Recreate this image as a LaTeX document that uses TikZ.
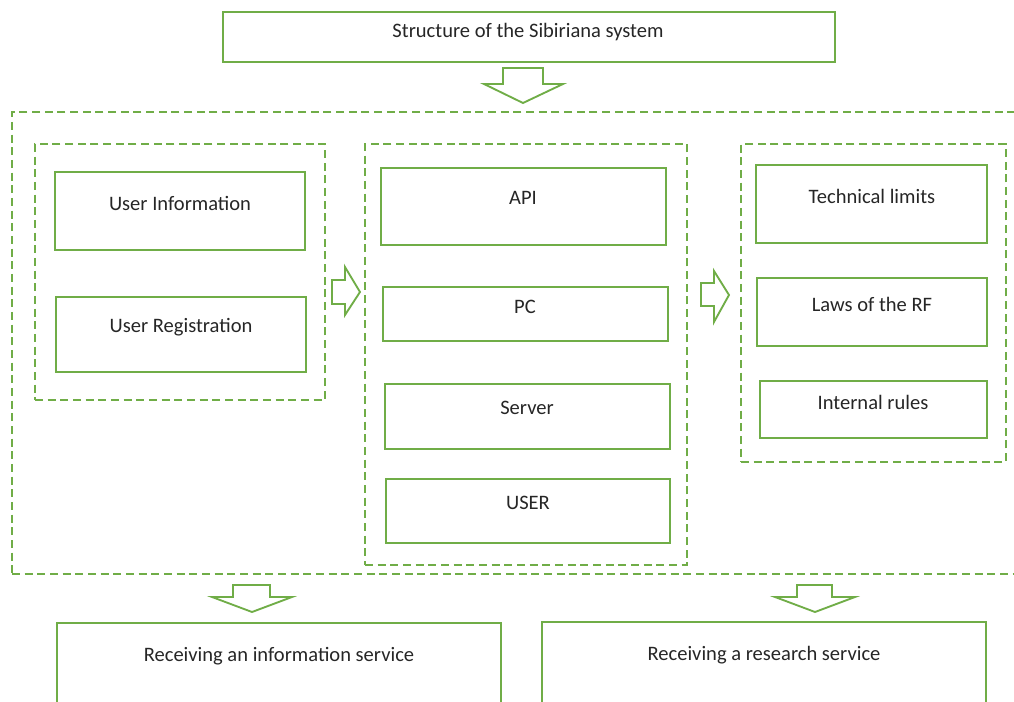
\documentclass[tikz,border=0pt]{standalone}
\usepackage{fontspec}
\setmainfont{Carlito}
\usetikzlibrary{fit}
\definecolor{sibgreen}{RGB}{112,173,71}

\begin{document}
\begin{tikzpicture}[
    x=0.75pt, y=-0.75pt,
    box/.style={draw=sibgreen, line width=1.5pt, inner sep=0pt},
    group/.style={draw=sibgreen, line width=1.5pt, dash pattern=on 6pt off 3.5pt, inner sep=0pt},
    blockarrow/.style={draw=sibgreen, line width=1.4pt, line join=miter, fill=white},
    txt/.style={font=\fontsize{15.4}{18}\selectfont, text=black!85}
]
    \useasboundingbox (0,0) rectangle (1014,702);
    \clip (0,0) rectangle (1014,702);

    % title
    \node[box, fit={(223,12) (835,62)}] (title) {};
    \node[txt] (titletxt) at (528,32) {Structure of the Sibiriana system};
    \draw[blockarrow] (503,68) -- (543,68) -- (543,84) -- (563,84) -- (523,103)
        -- (484,84) -- (503,84) -- cycle;

    % system frame
    \node[group, fit={(12,112) (1030,574)}] (system) {};

    % user side
    \node[group, fit={(35,144) (325,400)}] (users) {};
    \node[box, fit={(55,172) (305,250)}] (userinfo) {};
    \node[txt] (userinfotxt) at (180,203) {User Information};
    \node[box, fit={(56,297) (306,372)}] (userreg) {};
    \node[txt] (userregtxt) at (181,327) {User Registration};

    \draw[blockarrow] (332,280) -- (345,280) -- (345,267) -- (360,292) -- (345,315)
        -- (345,304) -- (332,304) -- cycle;

    % platform
    \node[group, fit={(365,144) (687,565)}] (platform) {};
    \node[box, fit={(381,168) (666,245)}] (api) {};
    \node[txt] (apitxt) at (523,198) {API};
    \node[box, fit={(383,287) (668,341)}] (pc) {};
    \node[txt] (pctxt) at (525,307) {PC};
    \node[box, fit={(385,384) (670,449)}] (server) {};
    \node[txt] (servertxt) at (527,408) {Server};
    \node[box, fit={(386,479) (670,543)}] (user) {};
    \node[txt] (usertxt) at (528,503) {USER};

    \draw[blockarrow] (701,283) -- (714,283) -- (714,271) -- (729,295) -- (714,322)
        -- (714,306) -- (701,306) -- cycle;

    % restrictions
    \node[group, fit={(741,144) (1006,462)}] (limits) {};
    \node[box, fit={(756,165) (987,243)}] (tech) {};
    \node[txt] (techtxt) at (872,196) {Technical limits};
    \node[box, fit={(757,278) (987,346)}] (laws) {};
    \node[txt] (lawstxt) at (872,304) {Laws of the RF};
    \node[box, fit={(760,381) (987,438)}] (rules) {};
    \node[txt] (rulestxt) at (873,402) {Internal rules};

    % services
    \draw[blockarrow] (233,585) -- (270,585) -- (270,597) -- (292,597) -- (252,612)
        -- (212,597) -- (233,597) -- cycle;
    \draw[blockarrow] (797,585) -- (832,585) -- (832,597) -- (855,597) -- (815,612)
        -- (775,597) -- (797,597) -- cycle;
    \node[box, fit={(57,623) (501,720)}] (infoserv) {};
    \node[txt] (infoservtxt) at (279,656) {Receiving an information service};
    \node[box, fit={(542,622) (986,720)}] (resserv) {};
    \node[txt] (resservtxt) at (764,655) {Receiving a research service};
\end{tikzpicture}
\end{document}
